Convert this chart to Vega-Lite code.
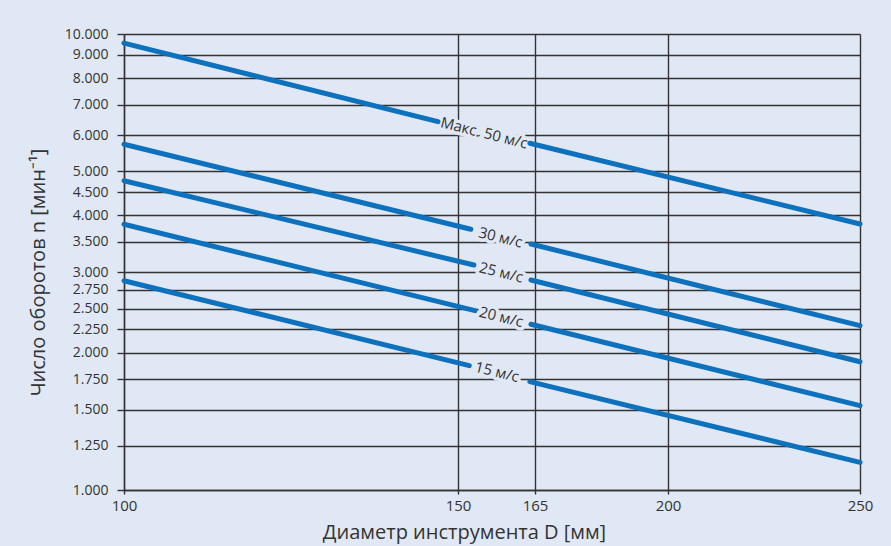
{
  "$schema": "https://vega.github.io/schema/vega-lite/v6.json",
  "width": 736,
  "height": 456,
  "autosize": {"type": "none"},
  "padding": {"left": 124, "top": 34, "right": 31, "bottom": 56},
  "background": "#E1E8F5",
  "config": {
    "view": {"stroke": null},
    "font": "Open Sans",
    "axis": {
      "gridColor": "#333333",
      "gridOpacity": 1,
      "gridWidth": 1.4,
      "domainColor": "#333333",
      "domainWidth": 1.4,
      "tickColor": "#333333",
      "tickWidth": 1.4,
      "labelColor": "#333333",
      "labelFontSize": 15,
      "titleColor": "#333333",
      "titleFontSize": 20,
      "titleFontWeight": "normal",
      "labelFont": "Open Sans",
      "titleFont": "Open Sans"
    }
  },
  "datasets": {
    "lines": [
      {"speed": "50", "seg": "a", "D": 100, "n": 9550},
      {"speed": "50", "seg": "a", "D": 147.0, "n": 6423},
      {"speed": "50", "seg": "b", "D": 164.0, "n": 5759},
      {"speed": "50", "seg": "b", "D": 250, "n": 3832},
      {"speed": "30", "seg": "a", "D": 100, "n": 5730},
      {"speed": "30", "seg": "a", "D": 152.5, "n": 3730},
      {"speed": "30", "seg": "b", "D": 164.2, "n": 3463},
      {"speed": "30", "seg": "b", "D": 250, "n": 2293},
      {"speed": "25", "seg": "a", "D": 100, "n": 4767},
      {"speed": "25", "seg": "a", "D": 153.1, "n": 3114},
      {"speed": "25", "seg": "b", "D": 164.2, "n": 2887},
      {"speed": "25", "seg": "b", "D": 250, "n": 1911},
      {"speed": "20", "seg": "a", "D": 100, "n": 3826},
      {"speed": "20", "seg": "a", "D": 153.3, "n": 2473},
      {"speed": "20", "seg": "b", "D": 164.2, "n": 2309},
      {"speed": "20", "seg": "b", "D": 250, "n": 1531},
      {"speed": "15", "seg": "a", "D": 100, "n": 2877},
      {"speed": "15", "seg": "a", "D": 152.2, "n": 1874},
      {"speed": "15", "seg": "b", "D": 164.0, "n": 1728},
      {"speed": "15", "seg": "b", "D": 250, "n": 1150}
    ],
    "labels": [
      {"label": "Макс. 50 м/с", "D": 155.1, "n": 6066},
      {"label": "30 м/с", "D": 158.3, "n": 3579},
      {"label": "25 м/с", "D": 158.4, "n": 2999},
      {"label": "20 м/с", "D": 158.4, "n": 2395},
      {"label": "15 м/с", "D": 157.6, "n": 1815}
    ]
  },
  "encoding": {
    "x": {
      "field": "D",
      "type": "quantitative",
      "scale": {"type": "linear", "domain": [100, 150, 165, 200, 250], "range": [0, 334, 411, 544, 736], "nice": false, "zero": false},
      "axis": {
        "values": [100, 150, 165, 200, 250],
        "grid": true,
        "tickSize": 4,
        "labelPadding": 4,
        "labelFlush": false,
        "labelOverlap": false,
        "title": "Диаметр инструмента D [мм]",
        "titlePadding": 9,
        "titleX": 340
      }
    },
    "y": {
      "field": "n",
      "type": "quantitative",
      "scale": {"type": "log", "domain": [1000, 10000], "nice": false},
      "axis": {
        "values": [1000, 1250, 1500, 1750, 2000, 2250, 2500, 2750, 3000, 3500, 4000, 4500, 5000, 6000, 7000, 8000, 9000, 10000],
        "labelExpr": "replace(format(datum.value, ',.0f'), ',', '.')",
        "labelOverlap": false,
        "labelFontSize": 14,
        "grid": true,
        "tickSize": 7,
        "labelPadding": 9,
        "title": "Число оборотов n [мин⁻¹]",
        "titlePadding": 16,
        "titleY": 238
      }
    }
  },
  "layer": [
    {
      "data": {"name": "labels"},
      "mark": {"type": "text", "angle": 14, "align": "center", "baseline": "middle", "fontSize": 15, "font": "Open Sans", "stroke": "#E1E8F5", "strokeWidth": 7, "strokeJoin": "round", "fill": "#E1E8F5"},
      "encoding": {"text": {"field": "label"}}
    },
    {
      "data": {"name": "lines"},
      "mark": {"type": "line", "color": "#0D71BD", "strokeWidth": 5, "strokeCap": "round", "clip": false},
      "encoding": {"detail": [{"field": "speed"}, {"field": "seg"}], "order": {"field": "D"}}
    },
    {
      "data": {"name": "labels"},
      "mark": {"type": "text", "angle": 14, "align": "center", "baseline": "middle", "fontSize": 15, "font": "Open Sans", "color": "#333333"},
      "encoding": {"text": {"field": "label"}}
    }
  ]
}
